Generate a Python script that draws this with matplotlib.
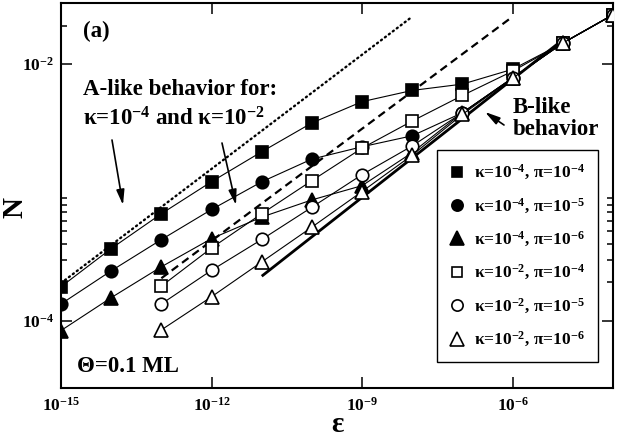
import matplotlib
matplotlib.use("Agg")
import matplotlib.pyplot as plt
from matplotlib.lines import Line2D
from matplotlib.ticker import FixedLocator, NullFormatter

plt.rcParams['font.family'] = ['Liberation Serif', 'DejaVu Serif']
plt.rcParams['font.weight'] = 'bold'
plt.rcParams['mathtext.fontset'] = 'custom'
plt.rcParams['mathtext.rm'] = 'Liberation Serif:bold'
plt.rcParams['mathtext.it'] = 'Liberation Serif:italic:bold'
plt.rcParams['mathtext.bf'] = 'Liberation Serif:bold'

# ---------------- data ----------------
eps_full = [1e-15, 1e-14, 1e-13, 1e-12, 1e-11, 1e-10, 1e-9, 1e-8, 1e-7, 1e-6, 1e-5, 1e-4]
eps_short = [1e-13, 1e-12, 1e-11, 1e-10, 1e-9, 1e-8, 1e-7, 1e-6, 1e-5, 1e-4]

N_k4_p4 = [1.845e-4, 3.66e-4, 6.84e-4, 1.216e-3, 2.08e-3, 3.49e-3, 5.11e-3, 6.25e-3, 7.00e-3, 9.14e-3, 1.462e-2, 2.43e-2]
N_k4_p5 = [1.355e-4, 2.455e-4, 4.30e-4, 7.38e-4, 1.213e-3, 1.824e-3, 2.275e-3, 2.77e-3, 4.19e-3, 7.83e-3, 1.462e-2, 2.43e-2]
N_k4_p6 = [8.41e-5, 1.517e-4, 2.64e-4, 4.38e-4, 6.44e-4, 8.77e-4, 1.132e-3, 2.05e-3, 4.19e-3, 7.83e-3, 1.462e-2, 2.43e-2]
N_k2_p4 = [1.866e-4, 3.70e-4, 6.84e-4, 1.239e-3, 2.22e-3, 3.61e-3, 5.71e-3, 8.83e-3, 1.462e-2, 2.43e-2]
N_k2_p5 = [1.355e-4, 2.48e-4, 4.31e-4, 7.69e-4, 1.380e-3, 2.31e-3, 4.19e-3, 7.83e-3, 1.462e-2, 2.43e-2]
N_k2_p6 = [8.51e-5, 1.542e-4, 2.88e-4, 5.38e-4, 1.019e-3, 1.96e-3, 4.07e-3, 7.78e-3, 1.462e-2, 2.43e-2]

# guide lines
dotted_eps = [1e-15, 1e-8]
dotted_N = [1.97e-4, 2.35e-2]
dashed_eps = [1e-13, 1e-6]
dashed_N = [2.15e-4, 2.35e-2]
thick_eps = [1e-11, 1e-5]
thick_N = [2.23e-4, 1.55e-2]

labels = [r'κ=10$^{-4}$, π=10$^{-4}$', r'κ=10$^{-4}$, π=10$^{-5}$', r'κ=10$^{-4}$, π=10$^{-6}$',
          r'κ=10$^{-2}$, π=10$^{-4}$', r'κ=10$^{-2}$, π=10$^{-5}$', r'κ=10$^{-2}$, π=10$^{-6}$']

xticks = [1e-15, 1e-12, 1e-9, 1e-6]
xticklabels = [r'10$^{-15}$', r'10$^{-12}$', r'10$^{-9}$', r'10$^{-6}$']
yticks = [1e-4, 1e-2]
yticklabels = [r'10$^{-4}$', r'10$^{-2}$']
yminor = [2e-4, 3e-4, 4e-4, 5e-4, 6e-4, 7e-4, 8e-4, 9e-4, 2e-2]

# ---------------- figure ----------------
W, H = 623, 437
fig = plt.figure(figsize=(W / 100, H / 100), dpi=100)
L, R, T, B = 61, 613, 3, 388
ax = fig.add_axes([L / W, 1 - B / H, (R - L) / W, (B - T) / H])

def px(x, y):
    return ((x - L) / (R - L), (B - y) / (B - T))

ax.set_xscale('log')
ax.set_yscale('log')
ax.set_xlim(1e-15, 1e-4)
ax.set_ylim(3e-5, 3e-2)

# guide lines
ax.plot(dotted_eps, dotted_N, color='black', lw=1.7, linestyle=(0, (0.5, 1.6)),
        dash_capstyle='round', zorder=2)
ax.plot(dashed_eps, dashed_N, color='black', lw=1.6, linestyle=(0, (3.6, 2.2)), zorder=2)
ax.plot(thick_eps, thick_N, color='black', lw=2.0, solid_capstyle='butt', zorder=2)

series = [
    (eps_full, N_k4_p4, 's', 'black', 8.0),
    (eps_full, N_k4_p5, 'o', 'black', 9.0),
    (eps_full, N_k4_p6, '^', 'black', 10.5),
    (eps_short, N_k2_p4, 's', 'white', 8.0),
    (eps_short, N_k2_p5, 'o', 'white', 9.0),
    (eps_short, N_k2_p6, '^', 'white', 10.5),
]
handles = []
for (xe, yn, m, fc, ms), lab in zip(series, labels):
    ax.plot(xe, yn, color='black', lw=0.8, marker=m, ms=ms, mfc=fc, mec='black',
            mew=1.2, zorder=3)
    handles.append(Line2D([], [], ls='none', marker=m, ms=ms * 0.9, mfc=fc,
                          mec='black', mew=1.2, label=lab))

leg = ax.legend(handles=handles, loc='upper left', bbox_to_anchor=px(437, 150),
                frameon=True, fancybox=False, edgecolor='black', framealpha=1,
                fontsize=12.5, handlelength=0.8, handletextpad=0.6,
                labelspacing=0.82, borderpad=0.75, borderaxespad=0)
leg.get_frame().set_linewidth(1.0)

# ticks
ax.xaxis.set_major_locator(FixedLocator(xticks))
ax.xaxis.set_minor_locator(FixedLocator([]))
ax.set_xticklabels(xticklabels)
ax.yaxis.set_major_locator(FixedLocator(yticks))
ax.yaxis.set_minor_locator(FixedLocator(yminor))
ax.yaxis.set_minor_formatter(NullFormatter())
ax.set_yticklabels(yticklabels)
ax.tick_params(which='both', direction='in', top=True, right=True, width=1.1,
               labelsize=12.5, colors='black')
ax.tick_params(which='major', length=8)
ax.tick_params(which='minor', length=4)
ax.tick_params(axis='x', pad=6)
ax.tick_params(axis='y', pad=5)
for s in ax.spines.values():
    s.set_linewidth(1.5)

# axis labels
ax.text(*px(337, 424), 'ε', transform=ax.transAxes, fontsize=21, ha='center', va='center')
ax.text(*px(15, 208), 'N', transform=ax.transAxes, fontsize=21, ha='center', va='center',
        rotation=90)

# texts
tkw = dict(transform=ax.transAxes, fontsize=16.5, fontweight='bold', va='baseline', ha='left')
ax.text(*px(83, 37), '(a)', **tkw)
ax.text(*px(83, 95), 'A-like behavior for:', **tkw)
ax.text(*px(83, 126), r'κ=10$^{-4}$ and κ=10$^{-2}$', **tkw)
ax.text(*px(513, 113), 'B-like', **tkw)
ax.text(*px(513, 135), 'behavior', **tkw)
ax.text(*px(77, 372), 'Θ=0.1 ML', **tkw)

akw = dict(arrowstyle='-|>,head_length=0.9,head_width=0.24', color='black', lw=1.2,
           shrinkA=0, shrinkB=0)
ax.annotate('', xy=px(123, 205), xytext=px(112, 140), xycoords='axes fraction',
            textcoords='axes fraction', arrowprops=akw)
ax.annotate('', xy=px(236, 205), xytext=px(222, 143), xycoords='axes fraction',
            textcoords='axes fraction', arrowprops=akw)
ax.annotate('', xy=px(485, 112), xytext=px(504, 125), xycoords='axes fraction',
            textcoords='axes fraction', arrowprops=akw)

fig.savefig('out.png', dpi=100)
